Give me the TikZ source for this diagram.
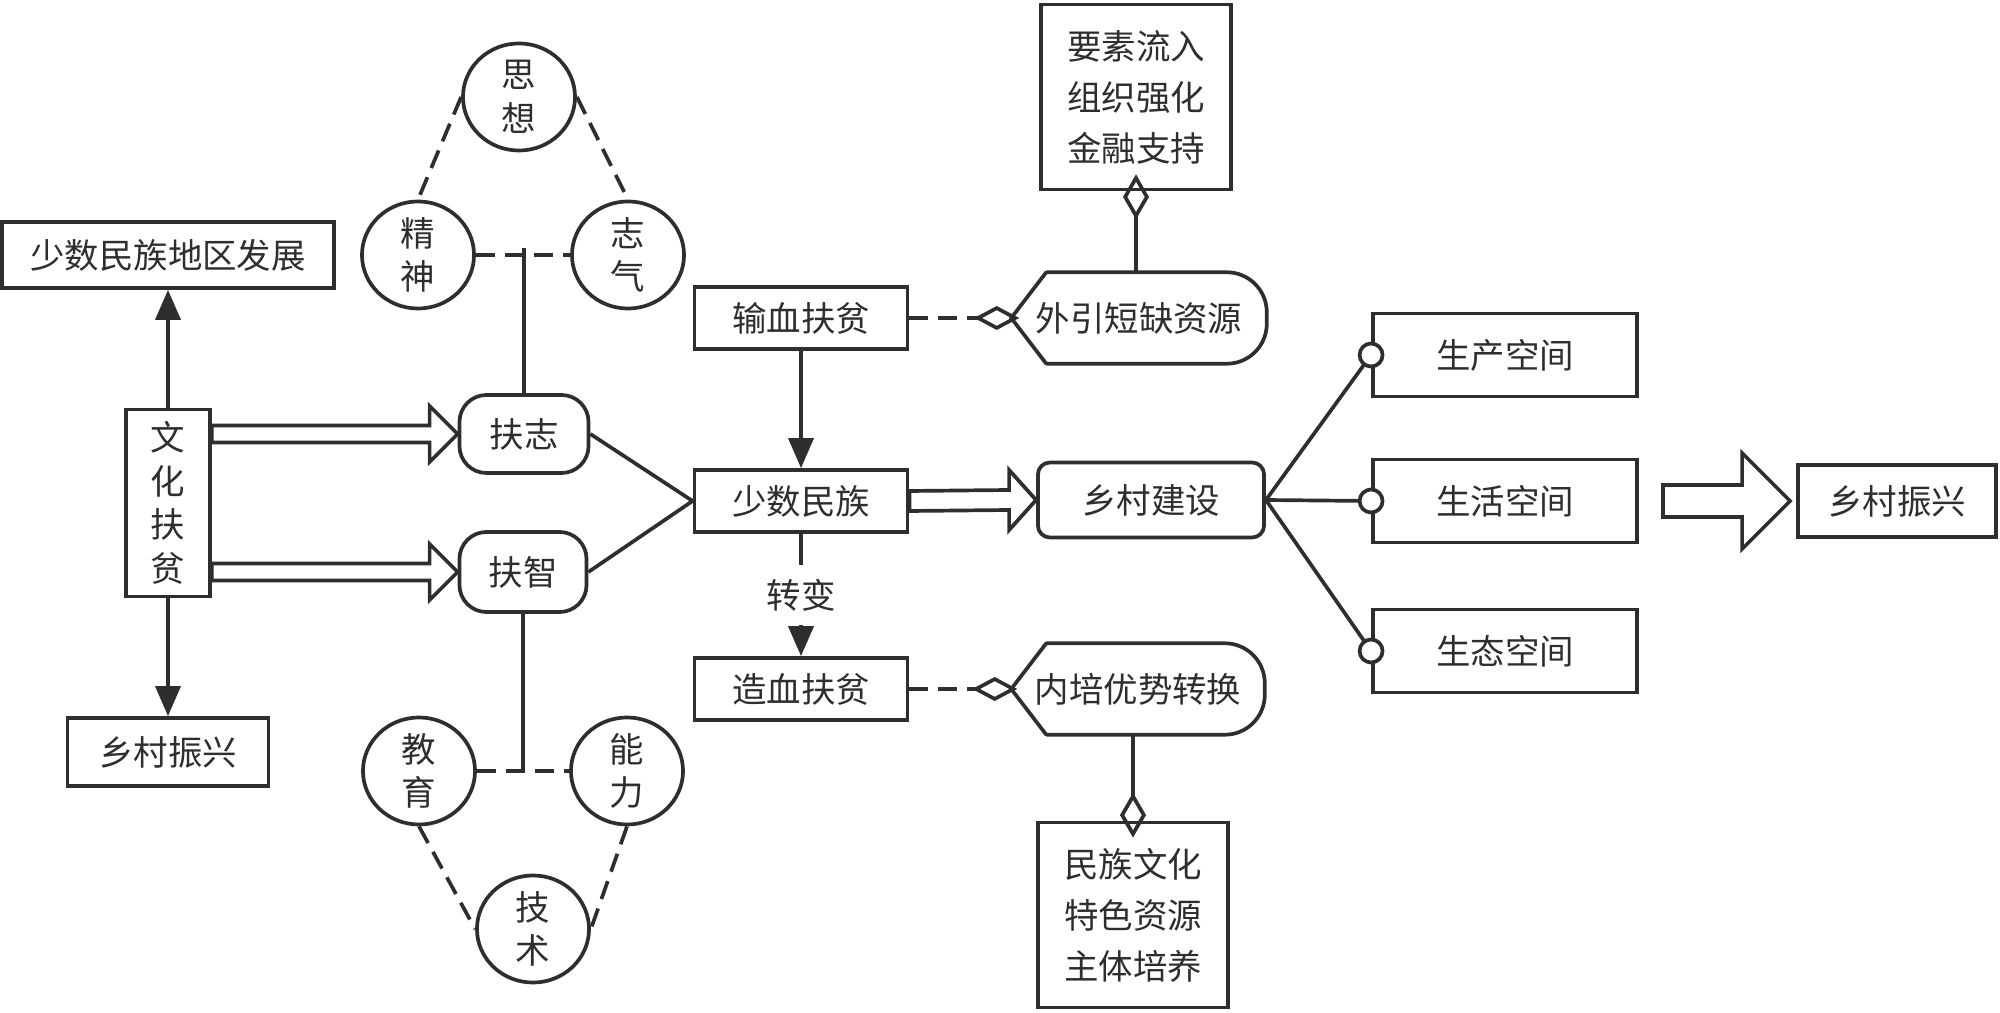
\documentclass[tikz,border=0pt]{standalone}
\usepackage{fontspec}
\setmainfont{Noto Sans CJK SC}
\usepackage{tikz}
\usetikzlibrary{arrows.meta,shapes.geometric,calc}

\definecolor{ink}{HTML}{2E2E2E}

% hollow block arrow: start, end, shaft half, head half, head length
\newcommand{\fatarrow}[5]{%
	\draw[ink,line width=1.05pt,line join=miter,fill=white] ($(#1)+(0,#3)$) -- ($(#2)+(-#5,#3)$) -- ($(#2)+(-#5,#4)$) -- (#2) -- ($(#2)+(-#5,-#4)$) -- ($(#2)+(-#5,-#3)$) -- ($(#1)+(0,-#3)$) -- cycle;}

\begin{document}
\begin{tikzpicture}[x=0.01cm,y=-0.01cm,every node/.style={font=\fontsize{9.8pt}{12.4pt}\selectfont,text=ink},box/.style={draw=ink,line width=1.05pt,inner sep=0pt,align=center},rbox/.style={box,rounded corners=0.27cm},ring/.style={box,ellipse,minimum width=1.12cm,minimum height=1.07cm},link/.style={ink,line width=1.05pt},dashline/.style={dash pattern=on 0.19cm off 0.1cm},tri/.style={-{Triangle[length=0.3cm,width=0.25cm]}},diam/.style={-{Diamond[open,length=0.45cm,width=0.24cm]}},threeline/.style={box,minimum width=1.9cm,minimum height=1.85cm,font=\fontsize{9.8pt}{14.5pt}\selectfont}]
	\useasboundingbox (0,0) rectangle (2000,1013);
	% left column
	\node[box,minimum width=3.32cm,minimum height=0.66cm] (dev) at (168,255) {少数民族地区发展};
	\node[box,minimum width=0.84cm,minimum height=1.87cm] (whfp) at (168,503) {文\\化\\扶\\贫};
	\node[box,minimum width=2.01cm,minimum height=0.68cm] (rv1) at (168,752) {乡村振兴};
	\draw[link,tri] (whfp) -- (dev);
	\draw[link,tri] (whfp) -- (rv1);
	% fuzhi and its circles
	\node[rbox,minimum width=1.29cm,minimum height=0.78cm] (fz) at (524,434) {扶志};
	\node[rbox,minimum width=1.27cm,minimum height=0.8cm] (fzh) at (523,572) {扶智};
	\node[ring] (sx) at (519,97) {思\\想};
	\node[ring] (js) at (418,255) {精\\神};
	\node[ring] (zq) at (628,255) {志\\气};
	\node[ring] (jy) at (419,771) {教\\育};
	\node[ring] (nl) at (627,771) {能\\力};
	\node[ring] (jsh) at (533,929) {技\\术};
	\coordinate (a1) at (whfp.east |- fz.west);
	\coordinate (a2) at (whfp.east |- fzh.west);
	\fatarrow{a1}{fz.west}{8.5}{28}{28}
	\fatarrow{a2}{fzh.west}{8.5}{28}{28}
	\draw[link,dashline] (js.east) -- (zq.west);
	\draw[link,dashline] (sx.west) -- (js.north);
	\draw[link,dashline] (sx.east) -- (zq.north);
	\draw[link,dashline] (jy.east) -- (nl.west);
	\draw[link,dashline] (jy.south) -- (jsh.west);
	\draw[link,dashline] (nl.south) -- (jsh.east);
	\coordinate (zt) at ([yshift=0.07cm]fz.north |- js.east);
	\coordinate (zb) at (fzh.south |- jy.east);
	\draw[link] (fz.north) -- (zt);
	\draw[link] (fzh.south) -- (zb);
	% middle column
	\node[box,minimum width=2.13cm,minimum height=0.62cm] (sxfp) at (801,318) {输血扶贫};
	\node[box,minimum width=2.13cm,minimum height=0.62cm] (ssmz) at (801,501) {少数民族};
	\node[box,minimum width=2.13cm,minimum height=0.62cm] (zxfp) at (801,689) {造血扶贫};
	\draw[link] (fz.east) -- (ssmz.west);
	\draw[link] (fzh.east) -- (ssmz.west);
	\draw[link,tri] (sxfp) -- (ssmz);
	\draw[link,tri] (ssmz) -- node[fill=white,inner xsep=0pt,inner ysep=0.14cm] {转变} (zxfp);
	\node[inner sep=0pt,minimum width=2.54cm,minimum height=0.9cm] (wyzy) at (1139,318) {外引短缺资源};
	\node[inner sep=0pt,minimum width=2.52cm,minimum height=0.9cm] (npys) at (1138,689) {内培优势转换};
	\foreach \s in {wyzy,npys}{
		\draw[link,rounded corners=0.4cm] ([xshift=0.35cm]\s.north west) -- (\s.north east) -- (\s.south east) -- ([xshift=0.35cm]\s.south west);
		\draw[link,line cap=round] ([xshift=0.35cm]\s.south west) -- (\s.west) -- ([xshift=0.35cm]\s.north west);
	}
	\node[threeline] (ysl) at (1136,97) {要素流入\\组织强化\\金融支持};
	\node[threeline] (mzwh) at (1133,915) {民族文化\\特色资源\\主体培养};
	\draw[link,dashline,diam] (sxfp.east) -- ([xshift=0.08cm]wyzy.west);
	\draw[link,dashline,diam] (zxfp.east) -- ([xshift=0.06cm]npys.west);
	\draw[link,-{Diamond[open,length=0.45cm,width=0.26cm]}] (ysl.south |- wyzy.north) -- ([yshift=0.17cm]ysl.south);
	\draw[link,-{Diamond[open,length=0.45cm,width=0.26cm]}] (mzwh.north |- npys.south) -- ([yshift=-0.17cm]mzwh.north);
	% right part
	\node[rbox,rounded corners=0.12cm,minimum width=2.26cm,minimum height=0.75cm] (xcjs) at (1151,500) {乡村建设};
	\fatarrow{ssmz.east}{xcjs.west}{10}{30}{27}
	\node[box,minimum width=2.64cm,minimum height=0.83cm] (sckj) at (1505,355) {生产空间};
	\node[box,minimum width=2.64cm,minimum height=0.83cm] (shkj) at (1505,501) {生活空间};
	\node[box,minimum width=2.64cm,minimum height=0.83cm] (stkj) at (1505,651) {生态空间};
	\foreach \k in {sckj,shkj,stkj}{
		\draw[link] (xcjs.east) -- (\k.west);
		\draw[link,fill=white] (\k.west) circle (0.115cm);
	}
	\node[box,minimum width=1.98cm,minimum height=0.72cm] (rv2) at (1897,501) {乡村振兴};
	\coordinate (a3) at ([xshift=0.24cm]shkj.east);
	\coordinate (a4) at ([xshift=-0.06cm]rv2.west);
	\fatarrow{a3}{a4}{16}{48}{48}
\end{tikzpicture}
\end{document}
